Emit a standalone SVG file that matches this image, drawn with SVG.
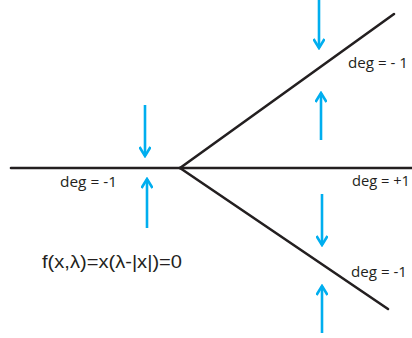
<svg xmlns="http://www.w3.org/2000/svg" width="412" height="338" viewBox="0 0 412 338">
<style>
.br{stroke:#231f20;stroke-width:2.6;fill:none;stroke-linecap:round}
.ar{stroke:#00aeef;stroke-width:2.6;fill:none}
.lb{font-family:"Open Sans","Liberation Sans",sans-serif;font-size:14.5px;fill:#231f20}
.fx{font-family:"Liberation Sans","Open Sans",sans-serif;font-size:18px;fill:#231f20}
</style>
<defs>
<marker id="h" viewBox="0 0 12 12" refX="10" refY="6" markerWidth="12" markerHeight="12" markerUnits="userSpaceOnUse" orient="auto">
<path d="M1,0.5 L10,6 L1,11.5" stroke="#00aeef" stroke-width="2.6" fill="none"/>
</marker>
</defs>
<rect width="412" height="338" fill="#fff"/>
<g id="branches">
<line class="br" x1="11" y1="168" x2="180" y2="168"/>
<line class="br" x1="180" y1="168" x2="412" y2="168"/>
<line class="br" x1="180" y1="168" x2="394" y2="14"/>
<line class="br" x1="180" y1="168" x2="388" y2="309"/>
</g>
<g id="arrows">
<line class="ar" x1="145" y1="105" x2="145" y2="156" marker-end="url(#h)"/>
<line class="ar" x1="147" y1="228" x2="147" y2="179" marker-end="url(#h)"/>
<line class="ar" x1="319" y1="0" x2="319" y2="48" marker-end="url(#h)"/>
<line class="ar" x1="321" y1="140" x2="321" y2="93" marker-end="url(#h)"/>
<line class="ar" x1="322" y1="194" x2="322" y2="245" marker-end="url(#h)"/>
<line class="ar" x1="322" y1="333" x2="322" y2="286" marker-end="url(#h)"/>
</g>
<g id="labels">
<text class="lb" x="60" y="187" textLength="57" lengthAdjust="spacingAndGlyphs">deg = -1</text>
<text class="lb" x="348" y="68" textLength="60" lengthAdjust="spacingAndGlyphs">deg = - 1</text>
<text class="lb" x="352" y="186" textLength="58" lengthAdjust="spacingAndGlyphs">deg = +1</text>
<text class="lb" x="351" y="277" textLength="56" lengthAdjust="spacingAndGlyphs">deg = -1</text>
<text class="fx" x="42" y="268" textLength="140" lengthAdjust="spacingAndGlyphs">f(x,λ)=x(λ-|x|)=0</text>
</g>
</svg>
